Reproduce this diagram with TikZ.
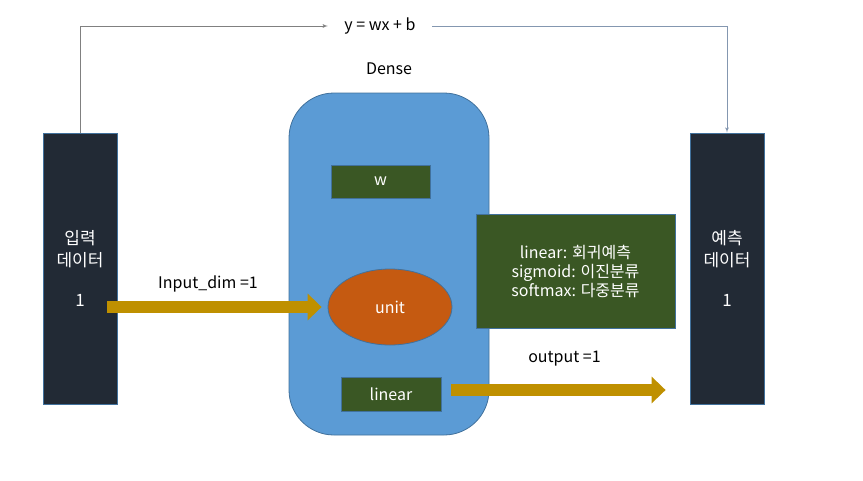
\documentclass[tikz,border=0pt]{standalone}
\usepackage{fontspec}
\setmainfont{Noto Sans CJK KR}
\usepackage{tikz}
\usetikzlibrary{shapes,arrows,arrows.meta}
\definecolor{navy}{HTML}{222A35}
\definecolor{edge}{HTML}{41719C}
\definecolor{sky}{HTML}{5B9BD5}
\definecolor{leaf}{HTML}{3A5724}
\definecolor{rust}{HTML}{C55A11}
\definecolor{gold}{HTML}{BF9000}
\definecolor{wire}{HTML}{8497B0}
\tikzstyle{databox} = [rectangle, draw=edge, fill=navy, text=white, align=center, minimum width=74pt,
    minimum height=271pt, line width=0.8pt, font=\fontsize{17}{22}\selectfont]
\tikzstyle{block} = [rectangle, draw=edge, fill=leaf, text=white, align=center, line width=0.8pt,
    font=\fontsize{16}{19}\selectfont]
\tikzstyle{layer} = [rectangle, draw=edge, fill=sky, rounded corners=45pt, minimum width=200pt,
    minimum height=342pt, line width=0.8pt]
\tikzstyle{cell} = [draw=edge, ellipse, fill=rust, text=white, inner sep=0pt, minimum width=124pt,
    minimum height=76pt, line width=0.8pt, font=\fontsize{16}{19}\selectfont]
\tikzstyle{note} = [font=\fontsize{16}{19}\selectfont]
\tikzstyle{line} = [draw, -latex', line width=0.8pt]
\tikzstyle{fat} = [draw=gold, line width=12pt, -{Triangle[length=14pt,width=26pt]}]

\begin{document}
\begin{tikzpicture}[x=1pt,y=-1pt,node distance=1cm,auto]
      \useasboundingbox (0,0) rectangle (863,480);
      \node [databox] (inbox) at (80,268.5) {입력\\데이터\\[18pt]1};
      \node [databox] (outbox) at (727,268.5) {예측\\데이터\\[18pt]1};
      \node [layer] (dense) at (389,264) {};
      \node [note] (densetitle) at (389,69) {Dense};
      \node [block, minimum width=99pt, minimum height=33pt] (wbox) at (380.5,181.5) {w};
      \node [cell] (unit) at (390,307) {unit};
      \node [block, minimum width=100pt, minimum height=34pt] (linbox) at (391,394) {linear};
      \node [block, minimum width=199pt, minimum height=114pt] (actbox) at (575.5,271)
            {linear: 회귀예측\\sigmoid: 이진분류\\softmax: 다중분류};
      \node [note, minimum width=104pt] (eq) at (380,26) {y = wx + b};
      \node [note] (inlabel) at (208,284) {Input\_dim =1};
      \node [note] (outlabel) at (564.5,359) {output =1};

      \path [line, gray] (inbox.north) |- (eq.west);
      \path [line, wire] (eq.east) -| (outbox.north);
      \path [fat, shorten <=-10pt, shorten >=6pt] (inbox.east |- unit.west) -- (unit.west);
      \path [fat, shorten <=10pt, shorten >=24pt, transform canvas={yshift=4pt}] (linbox.east) -- (linbox.east -| outbox.west);

    \end{tikzpicture}
\end{document}
